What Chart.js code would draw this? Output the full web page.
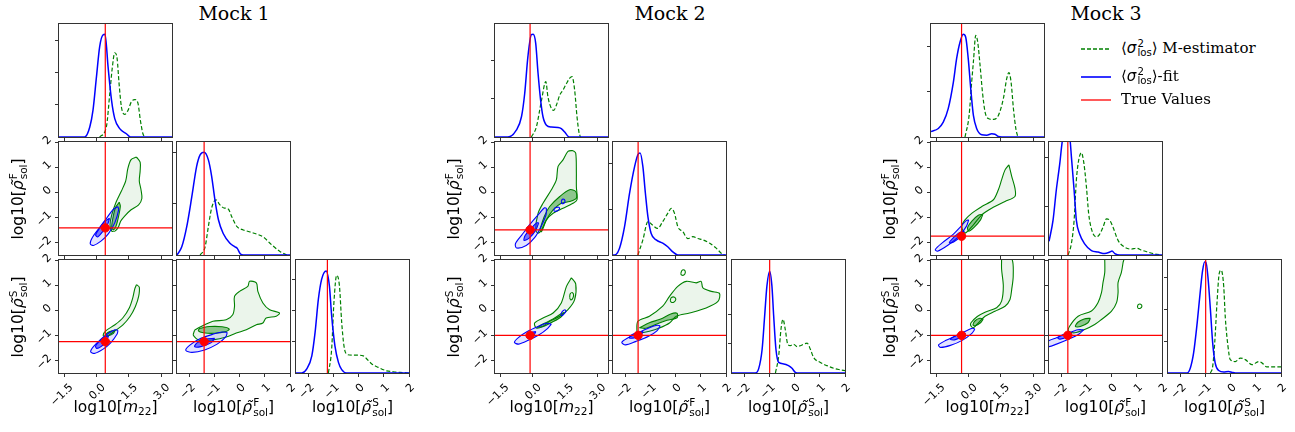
<!DOCTYPE html>
<html><head><meta charset="utf-8"><title>Corner plots – Mock 1, 2, 3</title>
<script src="https://cdn.jsdelivr.net/npm/chart.js@4.4.1/dist/chart.umd.min.js"></script>
<style>
html,body{margin:0;padding:0;background:#fff;}
body{position:relative;width:1295px;height:432px;overflow:hidden;font-family:'DejaVu Sans',sans-serif;color:#000;}
canvas{position:absolute;}
.ttl{position:absolute;top:2px;font-family:'DejaVu Serif',serif;font-size:19px;line-height:22px;transform:translateX(-50%);white-space:nowrap;}
.xl{position:absolute;top:397px;font-size:15.5px;line-height:20px;transform:translateX(-50%);white-space:nowrap;}
.yl{position:absolute;font-size:15.5px;line-height:20px;white-space:nowrap;transform:translate(-50%,-50%) rotate(-90deg);}
.ss{display:inline-block;vertical-align:-0.34em;font-size:0.68em;line-height:0.95;text-align:left;margin-left:1px;font-family:'DejaVu Sans',sans-serif;font-style:normal;}
.ss span{display:block;}
.it{font-style:italic;}
.sub{font-size:0.68em;vertical-align:-0.28em;}
.leg{position:absolute;left:1081px;height:22px;font-family:'DejaVu Serif',serif;font-size:15px;line-height:22px;white-space:nowrap;}
.leg svg{vertical-align:middle;margin-right:10px;}
.sig{font-family:'DejaVu Sans',sans-serif;font-style:italic;}
</style></head><body>
<script>
// ====================== DATA ======================
const M22_RANGE = [-1.75, 3.5];
const RHO_RANGE = [-2.5, 2.0];
const M22_TICKS = [-1.5, 0, 1.5, 3.0];
const M22_TICK_LABELS = ['\u22121.5', '0.0', '1.5', '3.0'];
const RHO_TICKS = [-2, -1, 0, 1, 2];
const RHO_TICK_LABELS = ['\u22122', '\u22121', '0', '1', '2'];
const MOCK_TITLES = ['Mock 1', 'Mock 2', 'Mock 3'];

const TRUE_M22 = [0.40, -0.12, -0.33];
const TRUE_RHO_F = [-1.42, -1.50, -1.75];
const TRUE_RHO_S = [-1.25, -1.00, -1.00];

// 1D marginals: y-axis upper limits and (unlabelled) tick positions, per mock [m22, rhoF, rhoS]
const M1_HIST_YMAX = [3.5, 2.21, 3.62];
const M2_HIST_YMAX = [2.96, 2.47, 3.85];
const M3_HIST_YMAX = [2.51, 2.32, 3.55];
const M1_HIST_YTICKS = [[1, 2, 3], [1, 2], [1, 2, 3]];
const M2_HIST_YTICKS = [[1, 2], [1, 2], [1, 2, 3]];
const M3_HIST_YTICKS = [[1, 2], [1, 2], [1, 2, 3]];

// ---- Mock 1 marginals ----
const M1_M22_FIT = [[-1.75,0],[-0.56,0],[-0.32,0.31],[-0.17,0.83],[-0.01,1.86],[0.14,2.80],[0.29,3.16],[0.39,3.18],[0.53,2.17],[0.69,1.14],[0.84,0.57],[1.07,0.26],[1.38,0.10],[1.57,0],[3.5,0]];
const M1_M22_MEST = [[0.14,0],[0.45,0.31],[0.61,1.35],[0.73,2.17],[0.84,2.61],[0.95,2.43],[1.04,1.66],[1.15,0.93],[1.30,0.70],[1.46,0.83],[1.61,1.09],[1.77,1.16],[1.92,1.04],[2.03,0.52],[2.15,0.10],[2.26,0]];
const M1_RHOF_FIT = [[-2.5,0],[-2.31,0.16],[-2.11,0.56],[-1.91,1.14],[-1.72,1.73],[-1.58,1.96],[-1.42,2.01],[-1.25,1.86],[-1.12,1.54],[-0.99,1.08],[-0.85,0.69],[-0.66,0.42],[-0.39,0.23],[-0.19,0.16],[-0.10,0.13],[0.01,0.03],[0.14,0],[2.0,0]];
const M1_RHOF_MEST = [[-1.58,0],[-1.38,0.16],[-1.25,0.56],[-1.12,0.92],[-0.95,1.08],[-0.79,0.98],[-0.63,0.92],[-0.46,0.90],[-0.32,0.75],[-0.12,0.56],[0.14,0.49],[0.34,0.46],[0.61,0.42],[0.94,0.35],[1.27,0.20],[1.60,0.07],[1.87,0]];
const M1_RHOS_FIT = [[-2.5,0],[-2.27,0],[-2.07,0.13],[-1.87,0.55],[-1.74,1.30],[-1.61,2.36],[-1.48,3.00],[-1.30,3.27],[-1.17,2.79],[-1.08,1.83],[-0.95,0.87],[-0.81,0.34],[-0.68,0.11],[-0.48,0],[2.0,0]];
const M1_RHOS_MEST = [[-1.21,0],[-1.08,0.77],[-0.99,2.26],[-0.88,3.13],[-0.77,2.79],[-0.68,1.62],[-0.59,0.87],[-0.48,0.60],[-0.28,0.57],[-0.02,0.57],[0.18,0.55],[0.32,0.45],[0.52,0.29],[0.78,0.18],[1.11,0.07],[1.38,0.04],[1.64,0.02],[2.0,0]];

// ---- Mock 2 marginals ----
const M2_M22_FIT = [[-1.75,0],[-1.15,0],[-0.76,0.18],[-0.52,0.53],[-0.37,1.14],[-0.22,2.11],[-0.06,2.68],[0.02,2.69],[0.14,2.46],[0.25,1.67],[0.37,0.96],[0.48,0.53],[0.64,0.31],[0.87,0.26],[1.18,0.25],[1.33,0.22],[1.49,0.13],[1.64,0.02],[1.72,0],[3.5,0]];
const M2_M22_MEST = [[-0.06,0],[0.17,0.26],[0.41,0.96],[0.61,1.45],[0.71,1.05],[0.87,0.75],[0.98,0.70],[1.10,0.83],[1.26,1.10],[1.41,1.23],[1.57,1.40],[1.72,1.54],[1.83,1.58],[1.95,1.23],[2.06,0.53],[2.15,0.13],[2.22,0]];
const M2_RHOF_FIT = [[-2.5,0],[-2.44,0],[-2.24,0.15],[-2.04,0.62],[-1.84,1.35],[-1.64,1.93],[-1.51,2.19],[-1.42,2.23],[-1.31,1.93],[-1.21,1.35],[-1.11,0.84],[-0.98,0.47],[-0.78,0.33],[-0.52,0.26],[-0.32,0.18],[-0.12,0.07],[0.08,0],[2.0,0]];
const M2_RHOF_MEST = [[-1.51,0],[-1.31,0.33],[-1.11,0.73],[-0.94,0.66],[-0.72,0.58],[-0.52,0.73],[-0.32,0.91],[-0.18,1.02],[-0.05,0.91],[0.08,0.62],[0.28,0.51],[0.48,0.36],[0.68,0.40],[0.88,0.36],[1.08,0.33],[1.34,0.26],[1.61,0.15],[1.81,0.04],[1.94,0]];
const M2_RHOS_FIT = [[-2.5,0],[-1.57,0],[-1.44,0.14],[-1.30,0.81],[-1.20,1.94],[-1.11,2.96],[-1.00,3.47],[-0.91,2.96],[-0.84,1.94],[-0.75,0.81],[-0.64,0.36],[-0.44,0.31],[-0.25,0.25],[-0.11,0.16],[0.02,0.02],[0.09,0],[2.0,0]];
const M2_RHOS_MEST = [[-0.77,0],[-0.64,0.59],[-0.55,1.49],[-0.47,1.83],[-0.38,1.49],[-0.28,0.98],[-0.18,0.93],[-0.05,0.98],[0.09,0.90],[0.22,0.93],[0.35,0.98],[0.49,1.02],[0.62,0.81],[0.75,0.53],[1.02,0.36],[1.28,0.25],[1.55,0.16],[1.81,0.11],[2.0,0.08]];

// ---- Mock 3 marginals ----
const M3_M22_FIT = [[-1.75,0.12],[-1.41,0.19],[-1.18,0.33],[-0.95,0.63],[-0.71,1.22],[-0.56,1.74],[-0.40,2.11],[-0.25,2.28],[-0.14,2.22],[-0.02,1.74],[0.11,1.00],[0.22,0.48],[0.37,0.19],[0.61,0.05],[0.84,0.04],[1.07,0.07],[1.22,0.06],[1.38,0.01],[1.54,0],[3.5,0]];
const M3_M22_MEST = [[-0.17,0],[0.02,0.48],[0.14,1.22],[0.22,1.67],[0.33,2.26],[0.42,2.11],[0.53,1.59],[0.64,1.00],[0.76,0.56],[0.91,0.41],[1.15,0.39],[1.38,0.48],[1.61,0.85],[1.77,1.30],[1.87,1.43],[1.97,1.22],[2.08,0.63],[2.19,0.19],[2.28,0.01]];
const M3_RHOF_FIT = [[-2.5,0.28],[-2.34,0.71],[-2.21,1.33],[-2.07,1.88],[-1.98,2.30],[-1.87,2.6],[-1.74,2.6],[-1.65,2.30],[-1.61,2.03],[-1.50,1.33],[-1.41,0.71],[-1.28,0.43],[-1.08,0.23],[-0.81,0.09],[-0.55,0.06],[-0.28,0.03],[-0.08,0.06],[0.01,0.08],[0.12,0.03],[0.32,0],[2.0,0]];
const M3_RHOF_MEST = [[-1.74,0],[-1.61,0.23],[-1.50,0.71],[-1.41,1.54],[-1.32,1.94],[-1.21,2.10],[-1.11,1.88],[-1.01,1.40],[-0.92,0.85],[-0.79,0.50],[-0.61,0.37],[-0.48,0.43],[-0.35,0.57],[-0.21,0.74],[-0.08,0.71],[0.05,0.57],[0.25,0.30],[0.52,0.16],[0.78,0.12],[0.98,0.14],[1.18,0.10],[1.44,0.06],[1.71,0.02],[1.98,0]];
const M3_RHOS_FIT = [[-2.5,0],[-1.74,0],[-1.61,0.16],[-1.48,0.63],[-1.34,1.56],[-1.21,2.60],[-1.12,3.23],[-1.04,3.49],[-0.99,3.49],[-0.91,3.02],[-0.81,1.98],[-0.72,0.94],[-0.62,0.31],[-0.48,0.08],[-0.28,0.03],[-0.09,0.05],[0.05,0.02],[0.18,0],[2.0,0]];
const M3_RHOS_MEST = [[-0.81,0],[-0.72,0.21],[-0.64,0.94],[-0.55,2.19],[-0.46,3.13],[-0.38,3.23],[-0.28,2.71],[-0.22,1.77],[-0.11,0.83],[-0.02,0.42],[0.18,0.36],[0.38,0.47],[0.58,0.42],[0.85,0.26],[1.11,0.36],[1.25,0.31],[1.44,0.19],[1.71,0.19],[2.01,0.19]];

// ---- 2D contours (vertices in data units). MF: m22 vs rhoF, MS: m22 vs rhoS, FS: rhoF vs rhoS ----
// GOUT/GIN = M-estimator outer/inner contour, BOUT/BIN = fit outer/inner contour
const M1_MF_GOUT = [[1.85,1.40],[2.02,1.20],[2.02,0.85],[1.98,0.45],[2.06,0.10],[2.10,-0.25],[1.95,-0.50],[1.60,-0.70],[1.30,-0.95],[1.12,-1.15],[1.00,-1.40],[0.85,-1.55],[0.70,-1.55],[0.62,-1.30],[0.70,-0.90],[0.90,-0.40],[1.15,0.05],[1.35,0.45],[1.45,0.95],[1.60,1.30]];
const M1_MF_GIN = [[1.05,-0.40],[1.10,-0.55],[1.02,-0.95],[0.90,-1.35],[0.78,-1.50],[0.70,-1.40],[0.75,-1.05],[0.88,-0.60]];
const M1_MF_BOUT = [[0.99,-0.57],[1.02,-0.70],[0.85,-1.20],[0.55,-1.65],[0.20,-1.95],[-0.15,-2.12],[-0.30,-2.05],[-0.20,-1.80],[0.10,-1.45],[0.45,-1.05],[0.75,-0.70]];
const M1_MF_BIN = [[0.60,-1.04],[0.50,-1.30],[0.25,-1.60],[0.05,-1.78],[-0.05,-1.70],[0.12,-1.45],[0.38,-1.15]];
const M1_MS_GOUT = [[1.85,1.02],[1.98,0.92],[1.95,0.55],[1.80,0.15],[1.55,-0.25],[1.22,-0.58],[0.80,-0.85],[0.45,-1.05],[0.30,-1.00],[0.42,-0.82],[0.85,-0.58],[1.22,-0.30],[1.52,0.10],[1.68,0.50],[1.77,0.85]];
const M1_MS_GIN = [[0.85,-0.80],[0.78,-0.92],[0.55,-1.02],[0.42,-1.00],[0.50,-0.90],[0.72,-0.82]];
const M1_MS_BOUT = [[0.99,-0.80],[0.95,-0.95],[0.65,-1.30],[0.30,-1.55],[-0.10,-1.72],[-0.28,-1.65],[-0.15,-1.45],[0.20,-1.15],[0.55,-0.92],[0.85,-0.78]];
const M1_MS_BIN = [[0.55,-1.02],[0.45,-1.25],[0.20,-1.45],[0.0,-1.52],[-0.05,-1.42],[0.15,-1.22],[0.40,-1.05]];
const M1_FS_GOUT = [[-1.80,-0.80],[-1.60,-0.68],[-1.07,-0.44],[-0.54,-0.38],[-0.28,-0.18],[-0.21,0.15],[-0.21,0.55],[-0.01,0.75],[0.32,0.95],[0.39,1.15],[0.66,1.09],[0.72,0.75],[0.92,0.29],[1.19,0.02],[1.58,-0.11],[1.45,-0.24],[1.05,-0.31],[0.92,-0.51],[0.66,-0.58],[0.26,-0.78],[-0.14,-0.91],[-0.54,-1.07],[-1.07,-1.18],[-1.60,-1.20],[-1.85,-1.0]];
const M1_FS_GIN = [[-1.60,-0.72],[-1.20,-0.65],[-0.70,-0.66],[-0.42,-0.75],[-0.55,-0.85],[-1.0,-0.92],[-1.45,-0.90],[-1.65,-0.82]];
const M1_FS_BOUT = [[-0.50,-0.88],[-0.55,-1.05],[-0.90,-1.35],[-1.40,-1.58],[-1.90,-1.68],[-2.15,-1.60],[-2.00,-1.40],[-1.55,-1.12],[-1.05,-0.95],[-0.70,-0.87]];
const M1_FS_BIN = [[-1.0,-1.12],[-1.15,-1.30],[-1.55,-1.45],[-1.80,-1.45],[-1.70,-1.30],[-1.35,-1.15]];

const M2_MF_GOUT = [[1.87,1.66],[2.0,1.56],[2.03,0.80],[2.03,0.23],[2.06,-0.30],[1.87,-0.44],[1.41,-0.64],[0.95,-0.84],[0.64,-1.10],[0.41,-1.50],[0.25,-1.63],[0.14,-1.50],[0.25,-0.84],[0.48,-0.44],[0.87,0.10],[1.10,0.49],[1.18,1.03],[1.41,1.29],[1.64,1.63]];
const M2_MF_GIN = [[0.33,-1.50],[0.55,-0.95],[0.79,-0.57],[1.26,-0.17],[1.72,0.10],[2.0,0.03],[2.03,-0.24],[1.72,-0.37],[1.33,-0.44],[0.95,-0.70],[0.64,-1.10],[0.41,-1.57]];
const M2_MF_BOUT = [[0.64,-0.64],[0.62,-0.90],[0.40,-1.35],[0.10,-1.80],[-0.30,-2.12],[-0.75,-2.22],[-0.80,-2.05],[-0.50,-1.70],[-0.10,-1.25],[0.30,-0.85],[0.55,-0.62]];
const M2_MF_BIN = [[0.28,-1.22],[0.15,-1.50],[-0.15,-1.82],[-0.40,-1.92],[-0.35,-1.72],[-0.05,-1.42],[0.18,-1.22]];
const M2_MF_BLOOP1 = [[0.97,-0.72],[1.05,-0.62],[1.22,-0.60],[1.25,-0.66],[1.15,-0.74],[1.02,-0.76]];
const M2_MF_BLOOP2 = [[1.33,-0.37],[1.38,-0.28],[1.47,-0.29],[1.50,-0.38],[1.43,-0.45],[1.35,-0.44]];
const M2_MS_GOUT = [[1.80,1.29],[2.0,1.05],[1.95,0.42],[1.64,0.02],[1.26,-0.24],[0.79,-0.44],[0.48,-0.64],[0.17,-0.71],[0.09,-0.51],[0.48,-0.31],[0.95,-0.11],[1.33,0.29],[1.57,0.95]];
const M2_MS_GIN = [[0.20,-0.68],[0.55,-0.52],[0.95,-0.35],[1.30,-0.15],[1.45,-0.10],[1.30,-0.28],[0.90,-0.48],[0.50,-0.65]];
const M2_MS_GLOOP = [[1.72,0.50],[1.74,0.65],[1.85,0.70],[1.90,0.60],[1.85,0.45],[1.76,0.42]];
const M2_MS_BOUT = [[0.87,-0.55],[0.70,-0.72],[0.30,-0.98],[-0.20,-1.20],[-0.65,-1.35],[-0.85,-1.28],[-0.65,-1.08],[-0.25,-0.85],[0.25,-0.65],[0.65,-0.52]];
const M2_MS_BIN = [[0.15,-0.85],[0.05,-1.0],[-0.20,-1.10],[-0.30,-1.02],[-0.10,-0.90]];
const M2_MS_BLOOP = [[1.30,-0.18],[1.38,-0.05],[1.50,0.02],[1.55,-0.05],[1.45,-0.15],[1.35,-0.22]];
const M2_FS_GOUT = [[-1.55,-0.90],[-1.51,-0.44],[-1.05,-0.24],[-0.52,0.16],[-0.25,0.55],[0.08,0.95],[0.42,1.15],[0.81,1.09],[1.01,1.15],[1.08,0.89],[1.41,0.75],[1.74,0.67],[1.68,0.35],[1.21,0.09],[0.55,-0.11],[0.02,-0.24],[-0.25,-0.51],[-0.65,-0.71],[-1.05,-0.84],[-1.44,-0.91]];
const M2_FS_GIN = [[-1.45,-0.70],[-1.05,-0.50],[-0.60,-0.35],[-0.20,-0.15],[0.05,-0.12],[0.05,-0.30],[-0.35,-0.40],[-0.75,-0.55],[-1.20,-0.72]];
const M2_FS_GLOOP1 = [[0.20,1.45],[0.24,1.58],[0.34,1.60],[0.38,1.50],[0.32,1.40],[0.23,1.40]];
const M2_FS_GLOOP2 = [[-0.22,0.38],[-0.18,0.50],[-0.05,0.52],[0.0,0.42],[-0.08,0.32],[-0.18,0.32]];
const M2_FS_BOUT = [[-0.62,-0.62],[-0.75,-0.82],[-1.10,-1.05],[-1.60,-1.25],[-2.00,-1.38],[-2.15,-1.28],[-1.90,-1.10],[-1.50,-0.90],[-1.05,-0.70],[-0.75,-0.60]];
const M2_FS_BIN = [[-1.30,-0.85],[-1.40,-1.00],[-1.65,-1.10],[-1.85,-1.10],[-1.75,-0.98],[-1.50,-0.88]];

const M3_MF_GOUT = [[1.87,1.09],[2.0,0.63],[2.15,0.16],[2.15,-0.17],[1.69,-0.37],[1.07,-0.64],[0.61,-0.90],[0.22,-1.30],[-0.17,-1.63],[-0.32,-1.37],[-0.17,-1.10],[0.14,-0.84],[0.61,-0.57],[1.15,-0.30],[1.38,0.10],[1.53,0.49],[1.69,0.89]];
const M3_MF_GIN = [[0.66,-0.88],[0.55,-1.10],[0.25,-1.40],[0.0,-1.55],[-0.05,-1.40],[0.15,-1.15],[0.45,-0.92]];
const M3_MF_BOUT = [[0.0,-1.10],[-0.10,-1.35],[-0.45,-1.75],[-0.95,-2.10],[-1.45,-2.35],[-1.55,-2.28],[-1.20,-2.00],[-0.75,-1.70],[-0.35,-1.35],[-0.10,-1.12]];
const M3_MF_BIN = [[-0.20,-1.55],[-0.35,-1.75],[-0.70,-1.98],[-0.90,-2.02],[-0.75,-1.85],[-0.45,-1.62]];
const M3_MS_GOUT = [[1.53,2.05],[2.0,2.05],[2.07,1.36],[2.0,0.83],[1.92,0.43],[1.69,0.16],[1.22,-0.04],[0.76,-0.24],[0.45,-0.50],[0.22,-0.70],[0.10,-0.62],[0.11,-0.50],[0.40,-0.25],[0.76,-0.08],[1.30,0.10],[1.53,0.36],[1.61,0.96],[1.53,1.63]];
const M3_MS_GIN = [[0.68,-0.35],[0.55,-0.50],[0.30,-0.62],[0.20,-0.58],[0.30,-0.42],[0.52,-0.32]];
const M3_MS_BOUT = [[0.29,-0.75],[0.15,-0.92],[-0.30,-1.20],[-0.85,-1.40],[-1.30,-1.48],[-1.40,-1.38],[-1.05,-1.20],[-0.55,-1.00],[-0.10,-0.82],[0.18,-0.72]];
const M3_MS_BIN = [[-0.15,-0.92],[-0.30,-1.05],[-0.65,-1.18],[-0.85,-1.15],[-0.60,-1.02],[-0.30,-0.92]];
const M3_FS_GOUT = [[-0.28,2.05],[0.47,2.05],[0.45,1.90],[0.38,1.50],[0.25,1.10],[0.25,0.70],[0.19,0.30],[-0.01,-0.04],[-0.41,-0.37],[-0.68,-0.57],[-1.08,-0.77],[-1.48,-0.90],[-1.72,-0.83],[-1.68,-0.64],[-1.34,-0.24],[-0.81,-0.03],[-0.55,0.30],[-0.41,0.70],[-0.35,1.10],[-0.28,1.50]];
const M3_FS_GIN = [[-0.85,-0.32],[-0.95,-0.50],[-1.25,-0.65],[-1.45,-0.65],[-1.35,-0.48],[-1.10,-0.35]];
const M3_FS_GLOOP = [[1.02,0.12],[1.05,0.22],[1.15,0.24],[1.20,0.16],[1.14,0.08],[1.05,0.08]];
const M3_FS_BOUT = [[-1.12,-0.78],[-1.30,-0.95],[-1.70,-1.15],[-2.20,-1.35],[-2.55,-1.45],[-2.55,-1.25],[-2.20,-1.10],[-1.75,-0.92],[-1.35,-0.78]];
const M3_FS_BIN = [[-1.60,-0.92],[-1.75,-1.05],[-2.05,-1.15],[-2.15,-1.10],[-1.95,-0.98]];

// ====================== STYLE / LAYOUT ======================
const C_GREEN = '#008000', C_BLUE = '#0000ff', C_RED = '#ff0000', AXIS_COLOR = '#333';
const FILL_G_OUT = 'rgba(0,128,0,0.08)', FILL_G_IN = 'rgba(0,128,0,0.40)';
const FILL_B_OUT = 'rgba(0,0,255,0.11)', FILL_B_IN = 'rgba(20,20,255,0.55)';
const S = 113, PADL = 44, PADT = 14, PADR = 16, PADB = 50;
const MOCK_X0 = [59, 495, 931];
const COL_STEP = 118.3;
const ROW_TOP = [24, 142, 260];
function colLeft(m, c) { return Math.round(MOCK_X0[m] + c * COL_STEP); }

Chart.defaults.font.family = "'DejaVu Sans', sans-serif";

// ====================== PLUGINS ======================
const polyFillPlugin = {
  id: 'polyFill',
  beforeDatasetDraw(chart, args) {
    const ds = chart.data.datasets[args.index];
    if (!ds.polyFill) return;
    const meta = args.meta, ctx = chart.ctx, a = chart.chartArea;
    ctx.save();
    ctx.beginPath(); ctx.rect(a.left, a.top, a.width, a.height); ctx.clip();
    ctx.beginPath();
    let done = false;
    try {
      const line = meta.dataset;
      if (line && line.path) {
        if (line.updateControlPoints) line.updateControlPoints(a, meta.indexAxis);
        line.path(ctx);
        done = true;
      }
    } catch (e) { done = false; }
    if (!done) {
      ctx.beginPath();
      meta.data.forEach((p, i) => i ? ctx.lineTo(p.x, p.y) : ctx.moveTo(p.x, p.y));
    }
    ctx.closePath();
    ctx.fillStyle = ds.polyFill;
    ctx.fill();
    ctx.restore();
  }
};
const framePlugin = {
  id: 'frame',
  afterDatasetsDraw(chart) {
    const { ctx, chartArea: a } = chart;
    ctx.save();
    ctx.strokeStyle = AXIS_COLOR; ctx.lineWidth = 1;
    ctx.strokeRect(a.left - 0.5, a.top - 0.5, a.width + 1, a.height + 1);
    ctx.restore();
  }
};

// ====================== BUILDERS ======================
function pts(a) { return a.map(p => ({ x: p[0], y: p[1] })); }
function closed(a) { return pts(a.concat([a[0]])); }

function xScale(kind, showLabels) {
  const R = kind === 'm' ? M22_RANGE : RHO_RANGE;
  const T = kind === 'm' ? M22_TICKS : RHO_TICKS;
  const L = kind === 'm' ? M22_TICK_LABELS : RHO_TICK_LABELS;
  return {
    type: 'linear', position: 'bottom', min: R[0], max: R[1],
    afterBuildTicks: ax => { ax.ticks = T.map(v => ({ value: v })); },
    afterFit: ax => { ax.height = PADB; },
    grid: { drawOnChartArea: false, drawTicks: true, tickLength: 4, color: AXIS_COLOR, lineWidth: 1 },
    border: { display: false },
    ticks: {
      display: showLabels, autoSkip: false, minRotation: 45, maxRotation: 45,
      padding: 4, labelOffset: kind === 'm' ? 7 : 4,
      color: '#000', font: { size: 11 },
      callback: (v, i) => L[i]
    }
  };
}
function yScale(range, T, L, showLabels) {
  return {
    type: 'linear', position: 'left', min: range[0], max: range[1],
    afterBuildTicks: ax => { ax.ticks = T.map(v => ({ value: v })); },
    afterFit: ax => { ax.width = PADL; },
    grid: { drawOnChartArea: false, drawTicks: true, tickLength: 4, color: AXIS_COLOR, lineWidth: 1 },
    border: { display: false },
    ticks: {
      display: showLabels, autoSkip: false, minRotation: 45, maxRotation: 45,
      padding: 5, labelOffset: -4,
      color: '#000', font: { size: 11 },
      callback: (v, i) => (L ? L[i] : '')
    }
  };
}

function makeChart(m, r, c, datasets, xs, ys) {
  const cv = document.createElement('canvas');
  cv.width = PADL + S + PADR; cv.height = PADT + S + PADB;
  cv.style.left = (colLeft(m, c) - PADL) + 'px';
  cv.style.top = (ROW_TOP[r] - PADT) + 'px';
  document.body.appendChild(cv);
  new Chart(cv, {
    type: 'line',
    data: { datasets },
    options: {
      responsive: false, animation: false, events: [], devicePixelRatio: 1,
      layout: { padding: { left: 0, right: PADR, top: PADT, bottom: 0 } },
      plugins: { legend: { display: false }, tooltip: { enabled: false }, title: { display: false } },
      elements: { point: { radius: 0 }, line: { fill: false } },
      scales: { x: xs, y: ys }
    },
    plugins: [polyFillPlugin, framePlugin]
  });
}

function histSets(fit, mest, truth, ymax) {
  return [
    { data: [{ x: truth, y: 0 }, { x: truth, y: ymax }], borderColor: C_RED, borderWidth: 1.2, order: 0 },
    { data: pts(fit), borderColor: C_BLUE, borderWidth: 1.5, cubicInterpolationMode: 'monotone', order: 1 },
    { data: pts(mest), borderColor: C_GREEN, borderWidth: 1.2, borderDash: [4, 2.2], cubicInterpolationMode: 'monotone', order: 2 }
  ];
}
function poly(arr, color, fill, order) {
  return { data: closed(arr), borderColor: color, borderWidth: 1.1, tension: 0.3, polyFill: fill, order };
}
function pairSets(xr, yr, tx, ty, gout, gin, bout, bin, extraG, extraB) {
  const sets = [
    { data: [{ x: tx, y: ty }], showLine: false, pointRadius: 4.2, pointBackgroundColor: C_RED, pointBorderColor: C_RED, borderColor: C_RED, order: 0 },
    { data: [{ x: tx, y: yr[0] }, { x: tx, y: yr[1] }], borderColor: C_RED, borderWidth: 1.2, order: 1 },
    { data: [{ x: xr[0], y: ty }, { x: xr[1], y: ty }], borderColor: C_RED, borderWidth: 1.2, order: 1 },
    poly(bin, C_BLUE, FILL_B_IN, 2),
    poly(bout, C_BLUE, FILL_B_OUT, 3),
    poly(gin, C_GREEN, FILL_G_IN, 4),
    poly(gout, C_GREEN, FILL_G_OUT, 5)
  ];
  (extraB || []).forEach(a => sets.push(poly(a, C_BLUE, null, 2)));
  (extraG || []).forEach(a => sets.push(poly(a, C_GREEN, null, 4)));
  return sets;
}

// ====================== ASSEMBLE ======================
const MOCKS = [
  { hists: [[M1_M22_FIT, M1_M22_MEST], [M1_RHOF_FIT, M1_RHOF_MEST], [M1_RHOS_FIT, M1_RHOS_MEST]], ymax: M1_HIST_YMAX, yticks: M1_HIST_YTICKS,
    mf: [M1_MF_GOUT, M1_MF_GIN, M1_MF_BOUT, M1_MF_BIN, [], []],
    ms: [M1_MS_GOUT, M1_MS_GIN, M1_MS_BOUT, M1_MS_BIN, [], []],
    fs: [M1_FS_GOUT, M1_FS_GIN, M1_FS_BOUT, M1_FS_BIN, [], []] },
  { hists: [[M2_M22_FIT, M2_M22_MEST], [M2_RHOF_FIT, M2_RHOF_MEST], [M2_RHOS_FIT, M2_RHOS_MEST]], ymax: M2_HIST_YMAX, yticks: M2_HIST_YTICKS,
    mf: [M2_MF_GOUT, M2_MF_GIN, M2_MF_BOUT, M2_MF_BIN, [], [M2_MF_BLOOP1, M2_MF_BLOOP2]],
    ms: [M2_MS_GOUT, M2_MS_GIN, M2_MS_BOUT, M2_MS_BIN, [M2_MS_GLOOP], [M2_MS_BLOOP]],
    fs: [M2_FS_GOUT, M2_FS_GIN, M2_FS_BOUT, M2_FS_BIN, [M2_FS_GLOOP1, M2_FS_GLOOP2], []] },
  { hists: [[M3_M22_FIT, M3_M22_MEST], [M3_RHOF_FIT, M3_RHOF_MEST], [M3_RHOS_FIT, M3_RHOS_MEST]], ymax: M3_HIST_YMAX, yticks: M3_HIST_YTICKS,
    mf: [M3_MF_GOUT, M3_MF_GIN, M3_MF_BOUT, M3_MF_BIN, [], []],
    ms: [M3_MS_GOUT, M3_MS_GIN, M3_MS_BOUT, M3_MS_BIN, [], []],
    fs: [M3_FS_GOUT, M3_FS_GIN, M3_FS_BOUT, M3_FS_BIN, [M3_FS_GLOOP], []] }
];
const KINDS = ['m', 'r', 'r'];

MOCKS.forEach((mk, m) => {
  const truths = [TRUE_M22[m], TRUE_RHO_F[m], TRUE_RHO_S[m]];
  for (let i = 0; i < 3; i++) {
    const ymax = mk.ymax[i];
    makeChart(m, i, i, histSets(mk.hists[i][0], mk.hists[i][1], truths[i], ymax),
      xScale(KINDS[i], i === 2), yScale([0, ymax], mk.yticks[i], null, false));
  }
  let d = mk.mf;
  makeChart(m, 1, 0, pairSets(M22_RANGE, RHO_RANGE, truths[0], truths[1], d[0], d[1], d[2], d[3], d[4], d[5]),
    xScale('m', false), yScale(RHO_RANGE, RHO_TICKS, RHO_TICK_LABELS, true));
  d = mk.ms;
  makeChart(m, 2, 0, pairSets(M22_RANGE, RHO_RANGE, truths[0], truths[2], d[0], d[1], d[2], d[3], d[4], d[5]),
    xScale('m', true), yScale(RHO_RANGE, RHO_TICKS, RHO_TICK_LABELS, true));
  d = mk.fs;
  makeChart(m, 2, 1, pairSets(RHO_RANGE, RHO_RANGE, truths[1], truths[2], d[0], d[1], d[2], d[3], d[4], d[5]),
    xScale('r', true), yScale(RHO_RANGE, RHO_TICKS, null, false));

  const x0 = colLeft(m, 0), x2 = colLeft(m, 2) + S;
  const t = document.createElement('div'); t.className = 'ttl'; t.textContent = MOCK_TITLES[m];
  t.style.left = ((x0 + x2) / 2) + 'px'; document.body.appendChild(t);
  const xlab = [
    'log10[<span class="it">m</span><span class="sub">22</span>]',
    'log10[<span class="it">\u03C1\u0303</span><span class="ss"><span>F</span><span>sol</span></span>]',
    'log10[<span class="it">\u03C1\u0303</span><span class="ss"><span>S</span><span>sol</span></span>]'
  ];
  for (let c = 0; c < 3; c++) {
    const e = document.createElement('div'); e.className = 'xl'; e.innerHTML = xlab[c];
    e.style.left = (colLeft(m, c) + S / 2) + 'px'; document.body.appendChild(e);
  }
  [1, 2].forEach(r => {
    const e = document.createElement('div'); e.className = 'yl'; e.innerHTML = xlab[r];
    e.style.left = (x0 - 41) + 'px'; e.style.top = (ROW_TOP[r] + S / 2) + 'px';
    document.body.appendChild(e);
  });
});

// legend
const LEGEND_TEXT = [
  '\u27E8<span class="sig">\u03C3</span><span class="ss"><span>2</span><span>los</span></span>\u27E9 M-estimator',
  '\u27E8<span class="sig">\u03C3</span><span class="ss"><span>2</span><span>los</span></span>\u27E9-fit',
  'True Values'
];
const LEGEND_STYLE = [[C_GREEN, '4 2'], [C_BLUE, ''], [C_RED, '']];
const LEGEND_Y = [48, 76, 99];
LEGEND_TEXT.forEach((txt, i) => {
  const e = document.createElement('div'); e.className = 'leg';
  e.style.top = (LEGEND_Y[i] - 11) + 'px';
  const [col, dash] = LEGEND_STYLE[i];
  e.innerHTML = '<svg width="30" height="10"><line x1="0" y1="5" x2="30" y2="5" stroke="' + col +
    '" stroke-width="' + (i === 1 ? 1.6 : 1.3) + '"' + (dash ? ' stroke-dasharray="' + dash + '"' : '') + '/></svg>' + txt;
  document.body.appendChild(e);
});
</script>
</body></html>
